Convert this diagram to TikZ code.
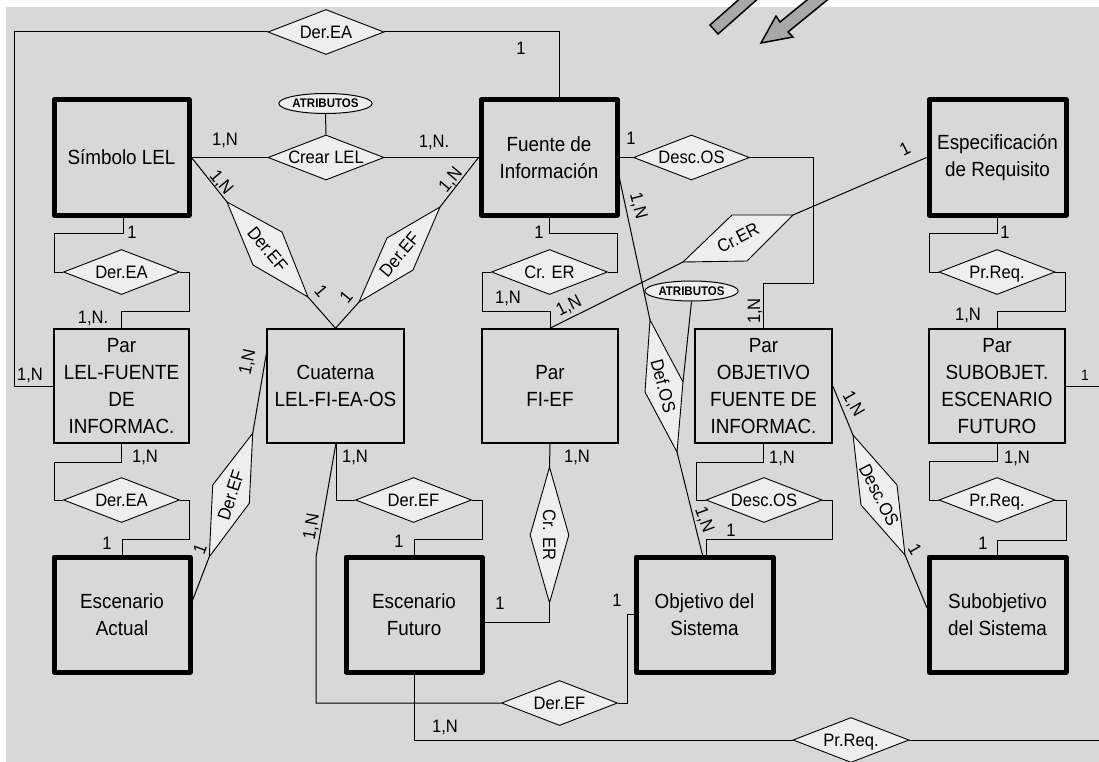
\documentclass[tikz,border=0pt]{standalone}
\usepackage{fontspec}
\setmainfont{Liberation Sans}[FakeStretch=0.92]
\usetikzlibrary{shapes.geometric}
\definecolor{bg}{RGB}{216,216,216}
\definecolor{dfill}{RGB}{238,238,238}
\definecolor{afill}{RGB}{168,168,168}
\begin{document}
\begin{tikzpicture}[x=1pt,y=-1pt,
  ent/.style={draw=black, line width=5pt, fill=bg, rectangle, minimum height=115pt, inner sep=0pt, align=center, font=\fontsize{20.5}{26.7}\selectfont, line join=round},
  wk/.style={draw=black, line width=1.5pt, fill=bg, rectangle, minimum height=114pt, inner sep=0pt, align=center, font=\fontsize{20.5}{26.7}\selectfont},
  rel/.style={diamond, draw=black, line width=0.9pt, fill=dfill, minimum width=116pt, minimum height=45pt, inner sep=0pt, aspect=2.58, text height=13pt, text depth=0pt, font=\fontsize{18}{20}\selectfont},
  rtxt/.style={font=\fontsize{18}{20}\selectfont, inner sep=0pt},
  card/.style={font=\fontsize{18}{20}\selectfont, inner sep=0pt},
  conn/.style={draw=black, line width=1pt},
  rpoly/.style={draw=black, line width=0.9pt, fill=dfill, line join=miter},
  attr/.style={ellipse, draw=black, line width=1pt, fill=dfill, minimum width=77pt, minimum height=20pt, inner sep=0pt, font=\bfseries\fontsize{12.5}{13}\selectfont},
  arrowshape/.style={draw=black, line width=1.5pt, fill=afill, line join=miter}
]
\useasboundingbox (0,0) rectangle (1099,762);
\fill[white] (0,0) rectangle (1099,762);
\fill[bg] (6,7) rectangle (1099,762);

% arrows at top
\begin{scope}
\clip (0,0) rectangle (1099,762);
\draw[arrowshape] (710,25) -- (718,34) -- (778,-19) -- (770,-28) -- cycle;
\draw[arrowshape] (761,43) -- (776,16) -- (780,22) -- (834,-22) -- (842,-12) -- (788,32) -- (793,37) -- cycle;
\end{scope}

% entities
\node[ent, minimum width=135pt] (sym) at (121.5,157.5) {Símbolo LEL};
\node[ent, minimum width=136pt] (fue) at (549,157.5) {Fuente de\\Información};
\node[ent, minimum width=137pt] (esp) at (997.5,157.5) {Especificación\\de Requisito};
\node[ent, minimum width=136pt] (escA) at (122,614.5) {Escenario\\Actual};
\node[ent, minimum width=136pt] (escF) at (414,614.5) {Escenario\\Futuro};
\node[ent, minimum width=137pt] (obj) at (704.5,614.5) {Objetivo del\\Sistema};
\node[ent, minimum width=137pt] (sub) at (997.5,614.5) {Subobjetivo\\del Sistema};

% weak boxes
\node[wk, minimum width=135pt] (parLF) at (121.5,386) {Par\\LEL-FUENTE\\DE\\INFORMAC.};
\node[wk, minimum width=137pt] (cuat) at (335.5,386) {Cuaterna\\LEL-FI-EA-OS};
\node[wk, minimum width=136pt] (parFE) at (550,386) {Par\\FI-EF};
\node[wk, minimum width=137pt] (parOF) at (763.5,386) {Par\\OBJETIVO\\FUENTE DE\\INFORMAC.};
\node[wk, minimum width=136pt] (parSE) at (997,386) {Par\\SUBOBJET.\\ESCENARIO\\FUTURO};

% relationship diamonds
\node[rel] (dEAtop) at (326,32) {Der.EA};
\node[rel] (crear) at (326,157.5) {Crear LEL};
\node[rel] (descT) at (691.5,157.5) {Desc.OS};
\node[rel] (dEA1) at (121.5,272) {Der.EA};
\node[rel] (dEA2) at (121.5,500) {Der.EA};
\node[rel] (dEF1) at (413.5,500) {Der.EF};
\node[rel] (crER1) at (549.5,272) {Cr. ER};
\node[rel] (prq1) at (997,272) {Pr.Req.};
\node[rel] (descL) at (764,500) {Desc.OS};
\node[rel] (prq2) at (997,500) {Pr.Req.};
\node[rel] (dEFb) at (559.5,703) {Der.EF};
\node[rel] (prqb) at (851,740) {Pr.Req.};
\node[rel, rotate=-90, minimum width=136pt, minimum height=39pt, aspect=3.49] (crERv) at (549.5,535) {Cr. ER};

% attribute ellipses
\node[attr] (attr1) at (325.5,103.5) {ATRIBUTOS};
\node[attr] (attr2) at (691.5,291) {ATRIBUTOS};

% slanted relationship shapes
\coordinate (A1) at (227,202); \coordinate (A2) at (282,232); \coordinate (A3) at (308,297); \coordinate (A4) at (253,265);
\coordinate (B1) at (440,207); \coordinate (B2) at (413,270); \coordinate (B3) at (359,302); \coordinate (B4) at (387,238);
\coordinate (C1) at (252.7,433.3); \coordinate (C2) at (249.3,503.3); \coordinate (C3) at (209.3,556.7); \coordinate (C4) at (212.7,485);
\coordinate (D1) at (683,262); \coordinate (D2) at (747,261); \coordinate (D3) at (793,215); \coordinate (D4) at (732,215);
\coordinate (E1) at (650,320); \coordinate (E2) at (683,382); \coordinate (E3) at (677,452); \coordinate (E4) at (645,392);
\coordinate (F1) at (853,435); \coordinate (F2) at (897,485); \coordinate (F3) at (905,555); \coordinate (F4) at (861,505);
\draw[rpoly] (A1) -- (A2) -- (A3) -- (A4) -- cycle;
\draw[rpoly] (B1) -- (B2) -- (B3) -- (B4) -- cycle;
\draw[rpoly] (C1) -- (C2) -- (C3) -- (C4) -- cycle;
\draw[rpoly] (D1) -- (D2) -- (D3) -- (D4) -- cycle;
\draw[rpoly] (E1) -- (E2) -- (E3) -- (E4) -- cycle;
\draw[rpoly] (F1) -- (F2) -- (F3) -- (F4) -- cycle;
\node[rtxt, rotate=-50] (tA) at (267.5,249.5) {Der.EF};
\node[rtxt, rotate=50] (tB) at (399.5,254.5) {Der.EF};
\node[rtxt, rotate=72] (tC) at (231,495) {Der.EF};
\node[rtxt, rotate=27] (tD) at (738,238) {Cr.ER};
\node[rtxt, rotate=-75] (tE) at (663.5,386) {Def.OS};
\node[rtxt, rotate=-63] (tF) at (879,495) {Desc.OS};

% connectors
\draw[conn] (sym.east) -- (crear.west);
\draw[conn] (crear.east) -- (fue.west);
\draw[conn] (attr1.south) -- (crear.north);
\draw[conn] (parLF.west) -- (14,386) -- (14,32) -- (dEAtop.west);
\draw[conn] (dEAtop.east) -- (559,32) -- (559,100);
\draw[conn] (fue.east) -- (descT.west);
\draw[conn] (descT.east) -- (813,157.5) -- (813,283) -- (763.5,283) -- (parOF.north);
\draw[conn] (123,215) -- (123,233) -- (54,233) -- (54,272) -- (dEA1.west);
\draw[conn] (dEA1.east) -- (189,272) -- (189,311) -- (121.5,311) -- (parLF.north);
\draw[conn] (parLF.south) -- (121.5,462) -- (54,462) -- (54,500) -- (dEA2.west);
\draw[conn] (dEA2.east) -- (189,500) -- (189,539) -- (122,539) -- (escA.north);
\draw[conn] (336,443) -- (336,500) -- (dEF1.west);
\draw[conn] (dEF1.east) -- (482,500) -- (482,539) -- (414,539) -- (escF.north);
\draw[conn] (336,443) -- (316,557) -- (316,703) -- (dEFb.west);
\draw[conn] (dEFb.east) -- (627,703) -- (627,614.5) -- (obj.west);
\draw[conn] (549,215) -- (549,233) -- (617,233) -- (617,272) -- (crER1.east);
\draw[conn] (crER1.west) -- (482,272) -- (482,311) -- (550,311) -- (parFE.north);
\draw[conn] (parFE.south) -- (549.5,467);
\draw[conn] (549.5,603) -- (549.5,622) -- (482,622);
\draw[conn] (parOF.south) -- (763.5,462) -- (696,462) -- (696,500) -- (descL.west);
\draw[conn] (descL.east) -- (832,500) -- (832,539) -- (706,539) -- (706,557);
\draw[conn] (esp.south) -- (997.5,233) -- (929,233) -- (929,272) -- (prq1.west);
\draw[conn] (prq1.east) -- (1065,272) -- (1065,311) -- (997,311) -- (parSE.north);
\draw[conn] (parSE.south) -- (997,461) -- (929,461) -- (929,500) -- (prq2.west);
\draw[conn] (prq2.east) -- (1066,500) -- (1066,540) -- (997.5,540) -- (sub.north);
\draw[conn] (parSE.east) -- (1099,386);
\draw[conn] (escF.south) -- (414,740) -- (prqb.west);
\draw[conn] (prqb.east) -- (1099,740);
% slanted connectors
\draw[conn] (sym.east) -- (A1);
\draw[conn] (A3) -- (cuat.north);
\draw[conn] (fue.west) -- (B1);
\draw[conn] (B3) -- (cuat.north);
\draw[conn] (C1) -- (267,350);
\draw[conn] (C3) -- (190,607);
\draw[conn] (parFE.north) -- (D1);
\draw[conn] (D3) -- (esp.west);
\draw[conn] (617,167) -- (E1);
\draw[conn] (E3) -- (703,557);
\draw[conn] (attr2.south) -- (E2);
\draw[conn] (parOF.east) -- (F1);
\draw[conn] (F3) -- (927,608);

% cardinality labels
\node[card] (k1) at (521,48) {1};
\node[card] (k2) at (30,375) {1,N};
\node[card] (k3) at (225,140) {1,N};
\node[card] (k4) at (434,142) {1,N.};
\node[card] (k5) at (631,138) {1};
\node[card] (k6) at (132,232) {1};
\node[card] (k7) at (93,318) {1,N.};
\node[card] (k8) at (145,457) {1,N};
\node[card] (k9) at (107,543) {1};
\node[card] (k10) at (355,457) {1,N};
\node[card] (k11) at (399,541) {1};
\node[card] (k12) at (539,232) {1};
\node[card] (k13) at (508,298) {1,N};
\node[card] (k14) at (577,457) {1,N};
\node[card] (k15) at (500,603) {1};
\node[card] (k16) at (782,458) {1,N};
\node[card] (k17) at (731,530) {1};
\node[card] (k18) at (617,600) {1};
\node[card] (k19) at (1005,232) {1};
\node[card] (k20) at (968,315) {1,N};
\node[card] (k21) at (1017,458) {1,N};
\node[card] (k22) at (983,543) {1};
\node[card, font=\fontsize{15}{17}\selectfont] (k23) at (1085,375) {1};
\node[card] (k24) at (445,727) {1,N};
% rotated labels
\node[card, rotate=-50] (r1) at (221,183) {1,N};
\node[card, rotate=-50] (r2) at (321,291) {1};
\node[card, rotate=50] (r3) at (451,180) {1,N};
\node[card, rotate=50] (r4) at (346,297) {1};
\node[card, rotate=78] (r5) at (248,362) {1,N};
\node[card, rotate=70] (r6) at (200,549) {1};
\node[card, rotate=27] (r7) at (569,306) {1,N};
\node[card, rotate=27] (r8) at (905,149) {1};
\node[card, rotate=-75] (r9) at (638,206) {1,N};
\node[card, rotate=-70] (r10) at (704,520) {1,N};
\node[card, rotate=-60] (r11) at (853,404) {1,N};
\node[card, rotate=-60] (r12) at (915,549) {1};
\node[card, rotate=90] (r13) at (755,311) {1,N};
\node[card, rotate=80] (r14) at (312,527) {1,N};
\end{tikzpicture}
\end{document}
